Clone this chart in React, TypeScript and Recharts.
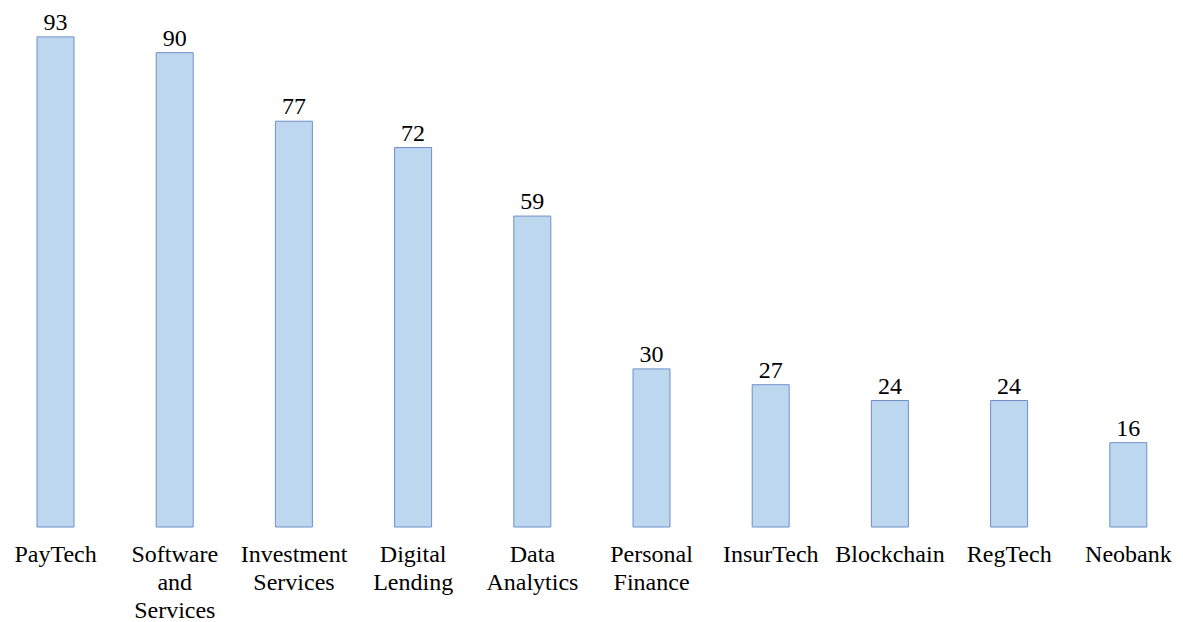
import React from 'react';
import { BarChart, Bar, XAxis, YAxis, LabelList } from 'recharts';

const categories = [
  'PayTech',
  'Software\nand\nServices',
  'Investment\nServices',
  'Digital\nLending',
  'Data\nAnalytics',
  'Personal\nFinance',
  'InsurTech',
  'Blockchain',
  'RegTech',
  'Neobank',
];
const counts = [93, 90, 77, 72, 59, 30, 27, 24, 24, 16];

const data = categories.map((name, i) => ({ name, value: counts[i] }));

const FONT = '"Liberation Serif", "Times New Roman", serif';

const Tick = (props: any) => {
  const { x, y, payload } = props;
  const lines = String(payload.value).split('\n');
  return (
    <text x={x} y={y} textAnchor="middle" fontFamily={FONT} fontSize={24} fill="#000">
      {lines.map((l, i) => (
        <tspan key={i} x={x} dy={i === 0 ? 35 : 28}>
          {l}
        </tspan>
      ))}
    </text>
  );
};

export default function App() {
  return (
    <div style={{ margin: '-8px 0 0 -8px', width: 1183, height: 622, overflow: 'hidden', background: '#fff' }}>
      <BarChart
        width={1188}
        height={622}
        data={data}
        margin={{ top: 0, left: -4, right: 0, bottom: 0 }}
      >
        <XAxis
          dataKey="name"
          axisLine={false}
          tickLine={false}
          tickSize={0}
          tickMargin={0}
          interval={0}
          tick={<Tick />}
          height={95}
        />
        <YAxis hide domain={[0, 100]} />
        <Bar dataKey="value" fill="#BDD7EE" stroke="#6F8FCB" strokeWidth={1} barSize={37} isAnimationActive={false}>
          <LabelList
            dataKey="value"
            position="top"
            offset={7}
            fontFamily={FONT}
            fontSize={24}
            fill="#000"
          />
        </Bar>
      </BarChart>
    </div>
  );
}
